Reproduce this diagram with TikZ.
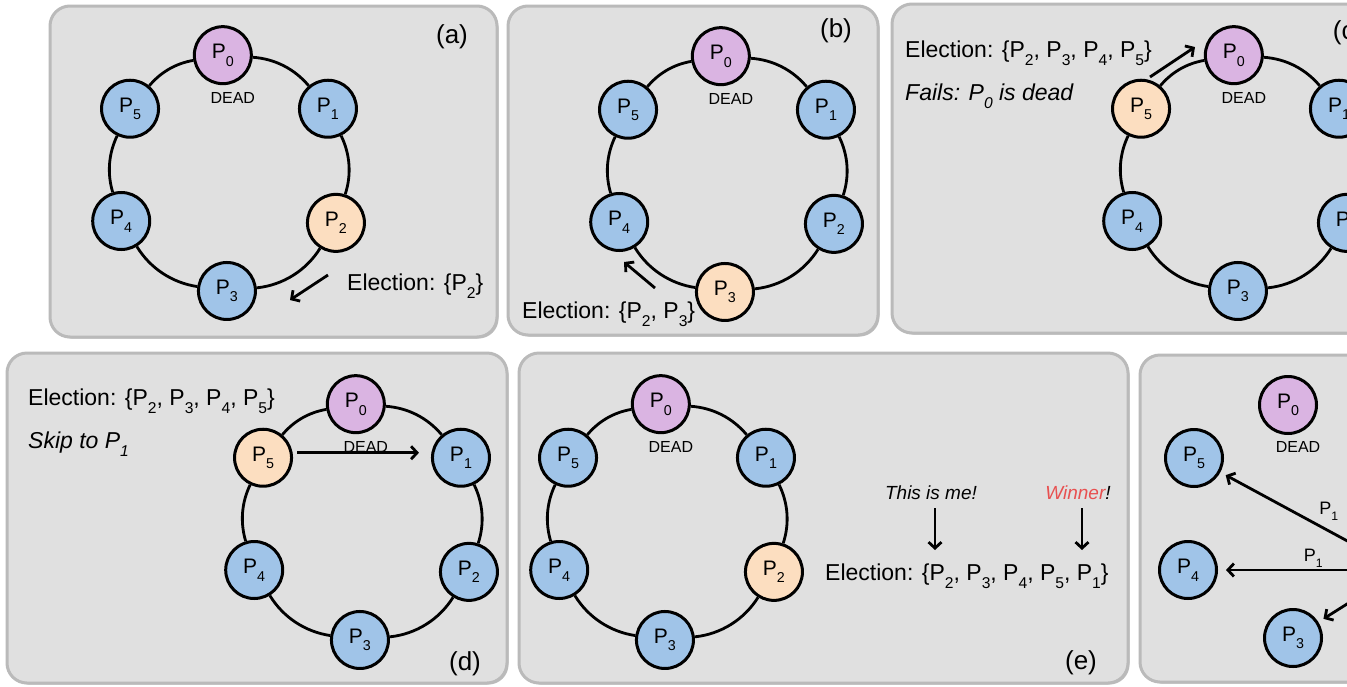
\documentclass[tikz,border=0pt]{standalone}
\usepackage{fontspec}
\setmainfont{Liberation Sans}
\usepackage{graphicx}
\usetikzlibrary{arrows.meta,shadows}
\definecolor{panelfill}{RGB}{224,224,224}
\definecolor{panelline}{RGB}{186,186,186}
\definecolor{deadfill}{RGB}{218,180,226}
\definecolor{procfill}{RGB}{160,196,232}
\definecolor{actfill}{RGB}{252,222,192}
\definecolor{winred}{RGB}{232,80,80}
\newcommand{\Sb}[1]{\raisebox{-0.36em}{\scalebox{0.68}{#1}}}
\tikzset{
 panel/.style={draw=panelline, fill=panelfill, line width=3pt, rounded corners=20pt,
   drop shadow={shadow xshift=1.5pt, shadow yshift=-1.5pt, opacity=0.25, fill=black}},
 proc/.style={circle, draw=black, line width=3pt, minimum size=57pt, inner sep=0pt,
   font=\fontsize{21}{21}\selectfont, fill=procfill},
 deadproc/.style={proc, fill=deadfill},
 actproc/.style={proc, fill=actfill},
 ringline/.style={line width=2.8pt, looseness=0.9},
 arr/.style={line width=2.8pt, -{Straight Barb[length=6pt,width=13pt]}},
 txt/.style={inner sep=0pt, font=\fontsize{23}{26}\selectfont},
 tag/.style={inner sep=0pt, font=\fontsize{26}{28}\selectfont},
 deadlbl/.style={inner sep=0pt, font=\fontsize{16}{16}\selectfont},
 lbl/.style={inner sep=0pt, font=\fontsize{18}{18}\selectfont},
 note/.style={inner sep=0pt, font=\fontsize{19}{21}\selectfont\itshape},
}
\newcommand{\ringnodes}[9]{%
 \begin{scope}[shift={(#2,-#3)}]
  \node[#4] (#1p0) at (93:118) {P\Sb{0}};
  \node[#5] (#1p1) at (33:118) {P\Sb{1}};
  \node[#6] (#1p2) at (-25:118) {P\Sb{2}};
  \node[#7] (#1p3) at (-91:118) {P\Sb{3}};
  \node[#8] (#1p4) at (204:118) {P\Sb{4}};
  \node[#9] (#1p5) at (147:118) {P\Sb{5}};
 \end{scope}
 \node[deadlbl] (#1dead) at ([xshift=10pt,yshift=-43pt]#1p0.center) {DEAD};}
\newcommand{\ringlinks}[1]{%
 \draw[ringline] (#1p0) to[bend left=23] (#1p1);
 \draw[ringline] (#1p1) to[bend left=22] (#1p2);
 \draw[ringline] (#1p2) to[bend left=26] (#1p3);
 \draw[ringline] (#1p3) to[bend left=25] (#1p4);
 \draw[ringline] (#1p4) to[bend left=21] (#1p5);
 \draw[ringline] (#1p5) to[bend left=20] (#1p0);}
\begin{document}
\begin{tikzpicture}[x=1pt,y=1pt]
\useasboundingbox (0,0) rectangle (1347,-686);
\clip (0,0) rectangle (1347,-686);
\fill[white] (0,0) rectangle (1347,-686);
% panels
\path[panel] (50,-6) rectangle (497,-337);
\path[panel] (508,-6) rectangle (878,-335);
\path[panel] (892,-4) rectangle (1420,-333);
\path[panel] (7,-353) rectangle (507,-683);
\path[panel] (519,-353) rectangle (1128,-683);
\path[panel] (1140,-355) rectangle (1420,-682);

% (a)
\ringnodes{a}{229}{173}{deadproc}{proc}{actproc}{proc}{proc}{proc}
\ringlinks{a}
\node[tag] (atag) at (452,-37) {(a)};
\node[txt, anchor=base west] (amsg) at (347,-290) {Election: \{P\Sb{2}\}};
\coordinate (aS) at (328,-275); \coordinate (aE) at (290,-300);
\draw[arr] (aS) -- (aE);

% (b)
\ringnodes{b}{727}{174}{deadproc}{proc}{proc}{actproc}{proc}{proc}
\ringlinks{b}
\node[tag] (btag) at (836,-31) {(b)};
\node[txt, anchor=base west] (bmsg) at (522,-318) {Election: \{P\Sb{2}, P\Sb{3}\}};
\coordinate (bS) at (655,-288); \coordinate (bE) at (624,-262);
\draw[arr] (bS) -- (bE);

% (c)
\ringnodes{c}{1240}{173}{deadproc}{proc}{proc}{proc}{proc}{actproc}
\ringlinks{c}
\node[tag] (ctag) at (1348,-33) {(c)};
\node[txt, anchor=base west] (cmsg) at (905,-57) {Election: \{P\Sb{2}, P\Sb{3}, P\Sb{4}, P\Sb{5}\}};
\node[txt, anchor=base west, font=\fontsize{23}{26}\selectfont\itshape] (cfail) at (905,-100) {Fails: P\Sb{0} is dead};
\coordinate (cS) at (1150,-77); \coordinate (cE) at (1195,-47);
\draw[arr] (cS) -- (cE);

% (d)
\ringnodes{d}{362}{522}{deadproc}{proc}{proc}{proc}{proc}{actproc}
\ringlinks{d}
\node[tag] (dtag) at (465,-664) {(d)};
\node[txt, anchor=base west] (dmsg) at (28,-405) {Election: \{P\Sb{2}, P\Sb{3}, P\Sb{4}, P\Sb{5}\}};
\node[txt, anchor=base west, font=\fontsize{23}{26}\selectfont\itshape] (dskip) at (28,-448) {Skip to P\Sb{1}};
\draw[arr, shorten <=4pt, shorten >=12pt] ([yshift=5pt]dp5.east) -- ([yshift=5pt]dp5.east -| dp1.west);

% (e)
\ringnodes{e}{667}{522}{deadproc}{proc}{actproc}{proc}{proc}{proc}
\ringlinks{e}
\node[tag] (etag) at (1081,-663) {(e)};
\node[txt, anchor=base west] (emsg) at (825,-580) {Election: \{P\Sb{2}, P\Sb{3}, P\Sb{4}, P\Sb{5}, P\Sb{1}\}};
\node[note, anchor=base] (eme) at (931,-499) {This is me!};
\node[note, anchor=base] (ewin) at (1078,-499) {{\color{winred}Winner}!};
\coordinate (emeT) at (935,-550); \coordinate (ewinT) at (1082,-550);
\draw[arr, shorten <=9pt] (eme.south -| emeT) -- (emeT);
\draw[arr, shorten <=9pt] (ewin.south -| ewinT) -- (ewinT);

% (f)
\node[deadproc] (fp0) at (1288,-405) {P\Sb{0}};
\node[deadlbl] (fdead) at ([xshift=10pt,yshift=-42pt]fp0.center) {DEAD};
\node[proc] (fp5) at (1194,-458) {P\Sb{5}};
\node[proc] (fp4) at (1188,-570) {P\Sb{4}};
\node[proc] (fp3) at (1293,-638) {P\Sb{3}};
\coordinate (fsrc) at (1401,-570);
\draw[arr, shorten >=6pt] (fsrc) -- (fp5) node[lbl, pos=0.40, above=9pt] {P\Sb{1}};
\draw[arr, shorten >=8pt] (fsrc) -- (fp4) node[lbl, pos=0.48, above=1pt] {P\Sb{1}};
\draw[arr, shorten >=6pt] (fsrc) -- (fp3);
\end{tikzpicture}
\end{document}
